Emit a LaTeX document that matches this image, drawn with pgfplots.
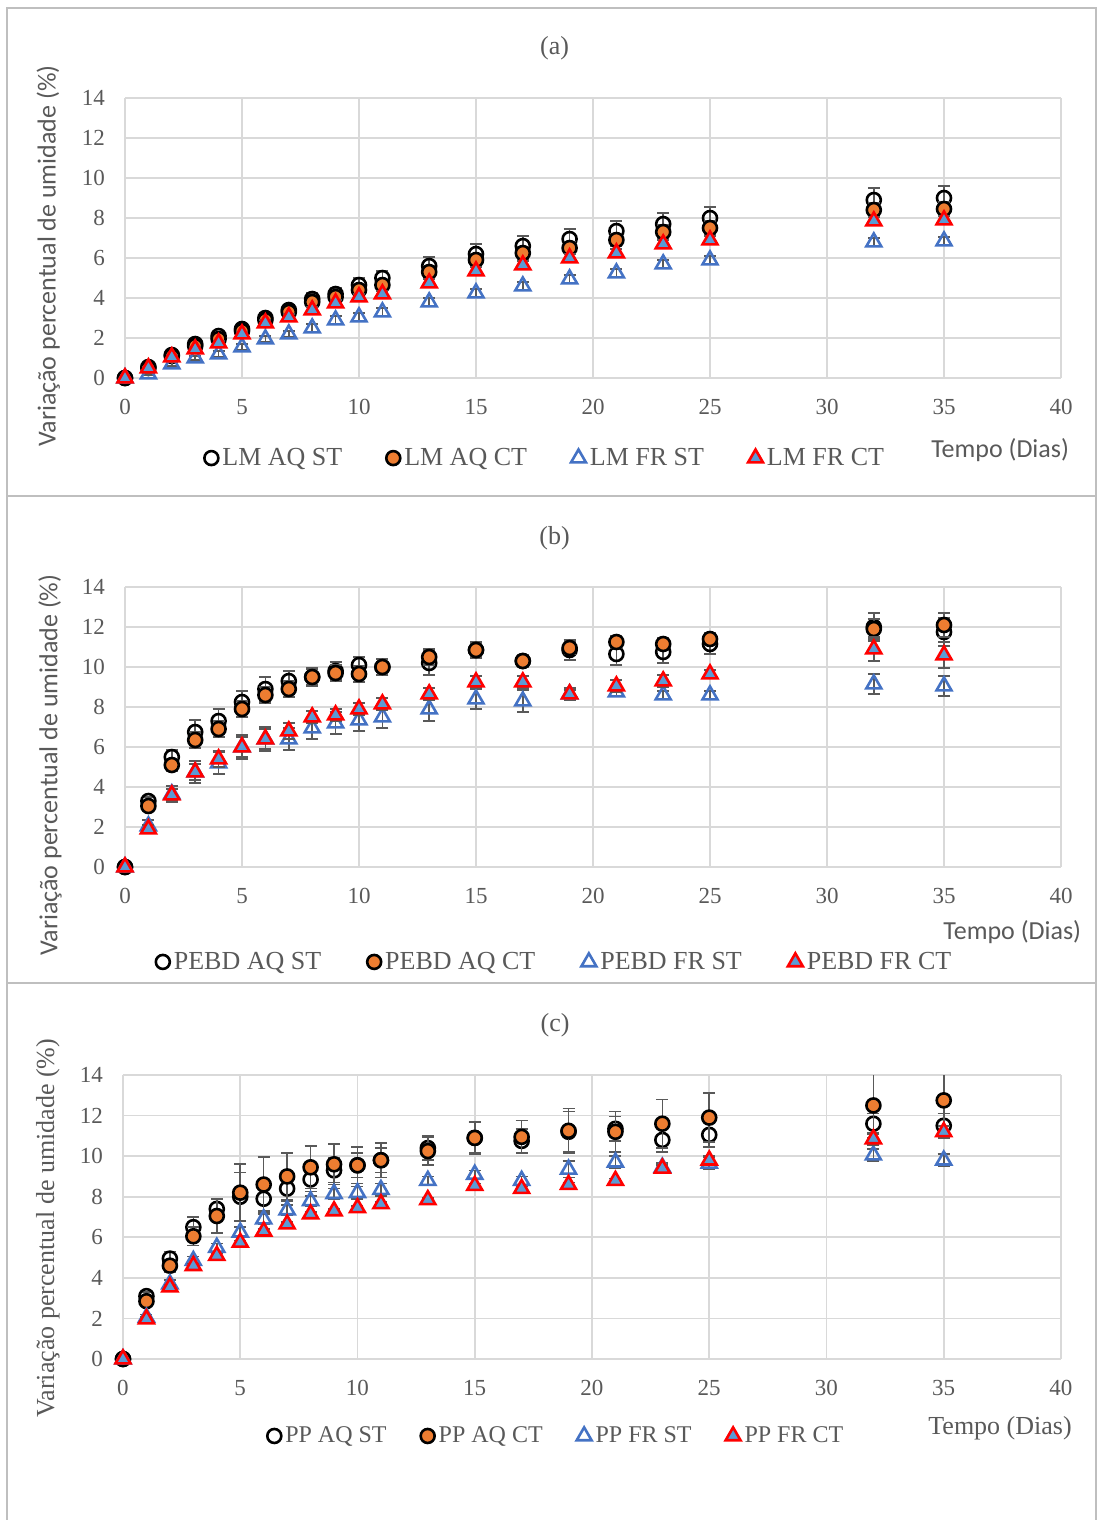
\documentclass[border=0pt]{standalone}
\usepackage{fontspec}
\setmainfont{Liberation Serif}
\newfontfamily\calfont{Carlito}
\usepackage{pgfplots}
\usepackage{pgfplotstable}
\pgfplotsset{compat=1.18}
\definecolor{gridc}{HTML}{D9D9D9}
\definecolor{txt}{HTML}{595959}
\definecolor{errc}{HTML}{595959}
\definecolor{orng}{HTML}{ED7D31}
\definecolor{blu}{HTML}{4472C4}
\definecolor{bfill}{HTML}{5B9BD5}
\definecolor{framec}{HTML}{BFBFBF}

\pgfplotstableread{
x aqst eaqst aqct eaqct frst efrst frct efrct
0 0 0 0 0 0 0 0 0
1 0.55 0.1 0.5 0.05 0.2 0.05 0.5 0.05
2 1.15 0.1 1.1 0.1 0.7 0.1 1.05 0.1
3 1.7 0.15 1.6 0.1 1.0 0.1 1.45 0.1
4 2.1 0.15 1.95 0.1 1.2 0.15 1.75 0.1
5 2.45 0.2 2.35 0.15 1.55 0.15 2.2 0.1
6 3.0 0.25 2.9 0.15 1.95 0.15 2.75 0.15
7 3.4 0.25 3.3 0.2 2.2 0.15 3.05 0.15
8 3.95 0.3 3.8 0.2 2.5 0.2 3.4 0.15
9 4.2 0.3 4.05 0.2 2.9 0.2 3.75 0.15
10 4.65 0.35 4.4 0.25 3.05 0.2 4.05 0.15
11 5.0 0.35 4.65 0.25 3.3 0.2 4.2 0.15
13 5.6 0.45 5.3 0.3 3.8 0.2 4.75 0.2
15 6.2 0.5 5.9 0.3 4.25 0.2 5.35 0.2
17 6.6 0.5 6.25 0.3 4.6 0.2 5.65 0.2
19 6.95 0.5 6.5 0.3 4.95 0.2 6.0 0.2
21 7.35 0.5 6.9 0.3 5.25 0.2 6.25 0.2
23 7.7 0.55 7.3 0.35 5.7 0.2 6.7 0.2
25 8.0 0.55 7.5 0.35 5.9 0.2 6.9 0.2
32 8.9 0.6 8.4 0.35 6.8 0.2 7.85 0.2
35 9.0 0.6 8.45 0.35 6.85 0.2 7.9 0.2
}\tabA

\pgfplotstableread{
x aqst eaqst aqct eaqct frst efrst frct efrct
0 0 0 0 0 0 0 0 0
1 3.3 0.2 3.05 0.2 2.05 0.3 1.9 0.2
2 5.5 0.35 5.1 0.3 3.65 0.4 3.6 0.3
3 6.75 0.6 6.35 0.4 4.75 0.55 4.75 0.4
4 7.3 0.6 6.9 0.4 5.2 0.55 5.4 0.4
5 8.25 0.55 7.9 0.4 6.0 0.6 6.0 0.5
6 8.9 0.6 8.6 0.4 6.4 0.6 6.4 0.5
7 9.3 0.5 8.9 0.4 6.4 0.55 6.8 0.4
8 9.5 0.45 9.5 0.4 6.95 0.55 7.5 0.3
9 9.8 0.45 9.7 0.4 7.2 0.55 7.6 0.3
10 10.1 0.4 9.65 0.4 7.35 0.55 7.9 0.3
11 10.0 0.4 10.0 0.4 7.5 0.55 8.15 0.3
13 10.2 0.6 10.5 0.4 7.9 0.6 8.65 0.3
15 10.85 0.4 10.85 0.3 8.4 0.5 9.25 0.3
17 10.3 0.3 10.3 0.3 8.3 0.55 9.25 0.3
19 10.85 0.5 10.95 0.3 8.65 0.3 8.65 0.2
21 10.65 0.55 11.25 0.3 8.75 0.2 9.05 0.3
23 10.75 0.55 11.15 0.3 8.6 0.2 9.3 0.3
25 11.15 0.5 11.4 0.3 8.6 0.2 9.65 0.2
32 12.0 0.7 11.9 0.5 9.15 0.5 10.9 0.6
35 11.75 0.7 12.1 0.6 9.05 0.5 10.6 0.65
}\tabB

\pgfplotstableread{
x aqst eaqst aqct eaqct frst efrst frct efrct
0 0 0 0 0 0 0 0 0
1 3.1 0.2 2.85 0.2 2.05 0.15 1.97 0.1
2 4.95 0.35 4.6 0.3 3.7 0.2 3.55 0.1
3 6.5 0.5 6.05 0.45 4.85 0.2 4.6 0.1
4 7.4 0.5 7.05 0.85 5.5 0.2 5.1 0.1
5 8.0 1.2 8.2 1.4 6.25 0.25 5.75 0.1
6 7.9 0.6 8.6 1.35 6.9 0.25 6.3 0.1
7 8.4 0.6 9.0 1.15 7.35 0.25 6.65 0.1
8 8.85 0.6 9.45 1.05 7.8 0.25 7.15 0.1
9 9.3 0.6 9.6 1.0 8.15 0.25 7.3 0.1
10 9.55 0.6 9.55 0.9 8.2 0.3 7.45 0.1
11 9.8 0.6 9.8 0.85 8.35 0.3 7.65 0.1
13 10.4 0.6 10.25 0.7 8.8 0.2 7.85 0.1
15 10.9 0.75 10.9 0.8 9.1 0.2 8.55 0.1
17 10.75 0.6 10.95 0.8 8.8 0.2 8.4 0.1
19 11.2 1.0 11.25 1.1 9.35 0.4 8.6 0.1
21 11.35 0.6 11.2 1.0 9.7 0.3 8.8 0.1
23 10.8 0.6 11.6 1.2 9.45 0.2 9.4 0.15
25 11.05 0.6 11.9 1.2 9.65 0.3 9.8 0.2
32 11.6 0.5 12.5 1.6 10.05 0.3 10.85 0.3
35 11.5 0.6 12.75 1.5 9.8 0.3 11.2 0.3
}\tabC

\pgfplotsset{
 panel/.style={
  scale only axis, width=468pt, height=140pt,
  xmin=0, xmax=40, ymin=0, ymax=14,
  xtick={0,5,...,40}, ytick={0,2,...,14},
  grid=major, major grid style={draw=gridc, line width=0.9pt},
  axis line style={draw=none}, major tick length=0pt,
  tick label style={font=\fontsize{11.5}{13}\selectfont, color=txt},
  /pgf/number format/assume math mode=true,
  yticklabel style={xshift=-6.5pt},
  xticklabel style={yshift=-7pt},
  clip mode=individual,
  legend columns=4,
  legend cell align=left,
  legend style={draw=none, fill=none, text=txt, anchor=center,
    /tikz/every even column/.append style={column sep=20pt}},
 },
 limg/.style={legend image code/.code={\draw[##1] plot coordinates {(3.5pt,0pt)};}},
 sAQST/.style={only marks, mark=o, mark size=3.5pt, mark options={draw=black, line width=1.3pt}, limg},
 sAQCT/.style={only marks, mark=*, mark size=3.5pt, mark options={draw=black, fill=orng, line width=1.3pt}, limg},
 sFRST/.style={only marks, mark=triangle, mark size=4.3pt, mark options={draw=blu, line width=1.3pt}, limg},
 sFRCT/.style={only marks, mark=triangle*, mark size=4.3pt, mark options={draw=red, fill=bfill, line width=1.3pt}, limg},
 eb/.style={error bars/.cd, y dir=both, y explicit,
   error bar style={draw=errc, line width=0.8pt},
   error mark options={rotate=90, mark size=3pt, draw=errc, line width=0.8pt}},
}

\begin{document}
\begin{tikzpicture}
\useasboundingbox (0,0) rectangle (548.5pt,-761.5pt);
\draw[framec, line width=0.8pt] (3.5pt,-4pt) rectangle (548pt,-248pt);
\draw[framec, line width=0.8pt] (3.5pt,-248pt) rectangle (548pt,-491.5pt);
\draw[framec, line width=0.8pt] (3.5pt,-491.5pt) -- (3.5pt,-760pt);
\draw[framec, line width=0.8pt] (548pt,-491.5pt) -- (548pt,-760pt);

% Panel (a)
\begin{axis}[panel, at={(62.5pt,-189pt)}, anchor=south west,
  legend style={at={(0.45,-0.286)}, font=\fontsize{13}{15}\selectfont}]
\addplot[sAQST, eb] table[x=x, y=aqst, y error=eaqst] {\tabA};
\addplot[sAQCT, eb] table[x=x, y=aqct, y error=eaqct] {\tabA};
\addplot[sFRST, eb] table[x=x, y=frst, y error=efrst] {\tabA};
\addplot[sFRCT, eb] table[x=x, y=frct, y error=efrct] {\tabA};
\legend{LM AQ ST, LM AQ CT, LM FR ST, LM FR CT}
\node[font=\fontsize{13}{15}\selectfont, text=txt] at (rel axis cs:0.459,1.179) {(a)};
\node[rotate=90, font=\calfont\fontsize{13}{15}\selectfont, text=txt] at (rel axis cs:-0.082,0.436) {Variação percentual de umidade (\%)};
\node[font=\calfont\fontsize{13}{15}\selectfont, text=txt] at (rel axis cs:0.935,-0.257) {Tempo (Dias)};
\end{axis}

% Panel (b)
\begin{axis}[panel, at={(62.5pt,-433.5pt)}, anchor=south west,
  legend style={at={(0.46,-0.339)}, font=\fontsize{13}{15}\selectfont,
    /tikz/every even column/.append style={column sep=21pt}}]
\addplot[sAQST, eb] table[x=x, y=aqst, y error=eaqst] {\tabB};
\addplot[sAQCT, eb] table[x=x, y=aqct, y error=eaqct] {\tabB};
\addplot[sFRST, eb] table[x=x, y=frst, y error=efrst] {\tabB};
\addplot[sFRCT, eb] table[x=x, y=frct, y error=efrct] {\tabB};
\legend{PEBD AQ ST, PEBD AQ CT, PEBD FR ST, PEBD FR CT}
\node[font=\fontsize{13}{15}\selectfont, text=txt] at (rel axis cs:0.459,1.175) {(b)};
\node[rotate=90, font=\calfont\fontsize{13}{15}\selectfont, text=txt] at (rel axis cs:-0.080,0.364) {Variação percentual de umidade (\%)};
\node[font=\calfont\fontsize{13}{15}\selectfont, text=txt] at (rel axis cs:0.948,-0.232) {Tempo (Dias)};
\end{axis}

% Panel (c)
\begin{axis}[panel, width=469pt, height=142pt, at={(61.5pt,-679.5pt)}, anchor=south west,
  legend style={at={(0.463,-0.271)}, font=\fontsize{12}{14}\selectfont,
    /tikz/every even column/.append style={column sep=15pt}}]
\addplot[sAQST, eb] table[x=x, y=aqst, y error=eaqst] {\tabC};
\addplot[sAQCT, eb] table[x=x, y=aqct, y error=eaqct] {\tabC};
\addplot[sFRST, eb] table[x=x, y=frst, y error=efrst] {\tabC};
\addplot[sFRCT, eb] table[x=x, y=frct, y error=efrct] {\tabC};
\legend{PP AQ ST, PP AQ CT, PP FR ST, PP FR CT}
\node[font=\fontsize{13}{15}\selectfont, text=txt] at (rel axis cs:0.4606,1.176) {(c)};
\node[rotate=90, font=\fontsize{13}{15}\selectfont, text=txt] at (rel axis cs:-0.080,0.461) {Variação percentual de umidade (\%)};
\node[font=\fontsize{13}{15}\selectfont, text=txt] at (rel axis cs:0.935,-0.243) {Tempo (Dias)};
\end{axis}
\end{tikzpicture}
\end{document}
